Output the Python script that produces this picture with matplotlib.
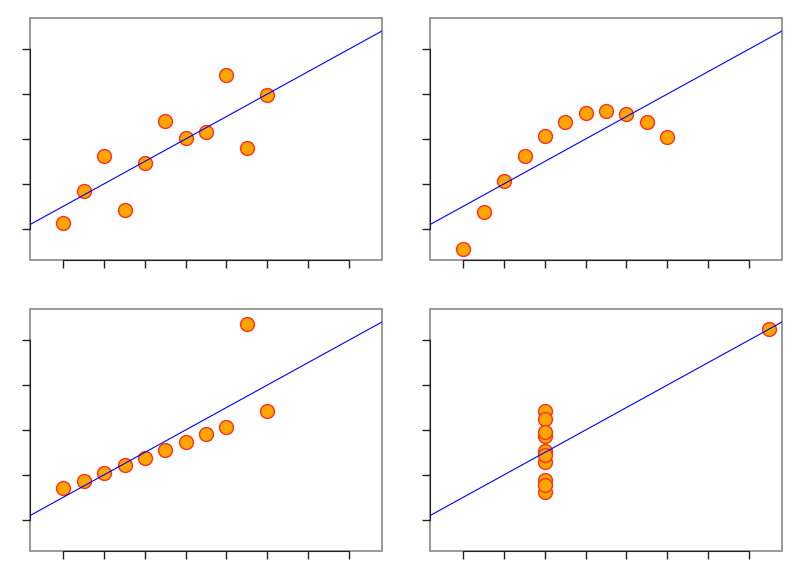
import matplotlib
matplotlib.use("Agg")
import matplotlib.pyplot as plt
from matplotlib.patches import Rectangle

# Anscombe's quartet
x1 = [10, 8, 13, 9, 11, 14, 6, 4, 12, 7, 5]
y1 = [8.04, 6.95, 7.58, 8.81, 8.33, 9.96, 7.24, 4.26, 10.84, 4.82, 5.68]
y2 = [9.14, 8.14, 8.74, 8.77, 9.26, 8.10, 6.13, 3.10, 9.13, 7.26, 4.74]
y3 = [7.46, 6.77, 12.74, 7.11, 7.81, 8.84, 6.08, 5.39, 8.15, 6.42, 5.73]
x4 = [8, 8, 8, 8, 8, 8, 8, 19, 8, 8, 8]
y4 = [6.58, 5.76, 7.71, 8.84, 8.47, 7.04, 5.25, 12.50, 5.56, 7.91, 6.89]

# fitted line y = 3 + 0.5x (same for all four)
intercept = 3.0
slope = 0.5

xticks = [4, 6, 8, 10, 12, 14, 16, 18]
yticks = [4, 6, 8, 10, 12]

sets = [(x1, y1), (x1, y2), (x1, y3), (x4, y4)]

fig = plt.figure(figsize=(8, 5.82), dpi=100)

positions = [
    [0.0375, 0.5533, 0.44, 0.4158],
    [0.5375, 0.5533, 0.44, 0.4158],
    [0.0375, 0.0533, 0.44, 0.4158],
    [0.5375, 0.0533, 0.44, 0.4158],
]

for pos, (xs, ys) in zip(positions, sets):
    ax = fig.add_axes(pos)
    ax.set_xlim(2.36, 19.64)
    ax.set_ylim(2.6, 13.4)

    ax.plot(xs, ys, "o", markersize=10, markerfacecolor="#FFA500",
            markeredgecolor="#FF3020", markeredgewidth=1, zorder=2)
    lx = [2.36, 19.64]
    ly = [intercept + slope * v for v in lx]
    ax.plot(lx, ly, color="#0000FF", linewidth=0.8, zorder=3)

    ax.set_xticks(xticks)
    ax.set_yticks(yticks)
    ax.set_xticklabels([])
    ax.set_yticklabels([])
    ax.tick_params(direction="out", length=6, width=1, color="#222222")

    # grey box, with darker axis lines between first and last tick
    for s in ["top", "right"]:
        ax.spines[s].set_visible(False)
    ax.spines["left"].set_bounds(4, 12)
    ax.spines["bottom"].set_bounds(4, 18)
    ax.spines["left"].set_color("#222222")
    ax.spines["bottom"].set_color("#222222")
    ax.add_patch(Rectangle((0, 0), 1, 1, transform=ax.transAxes, fill=False,
                           edgecolor="#888888", linewidth=1.2, zorder=1,
                           clip_on=False))

fig.savefig("out.png", dpi=100)
